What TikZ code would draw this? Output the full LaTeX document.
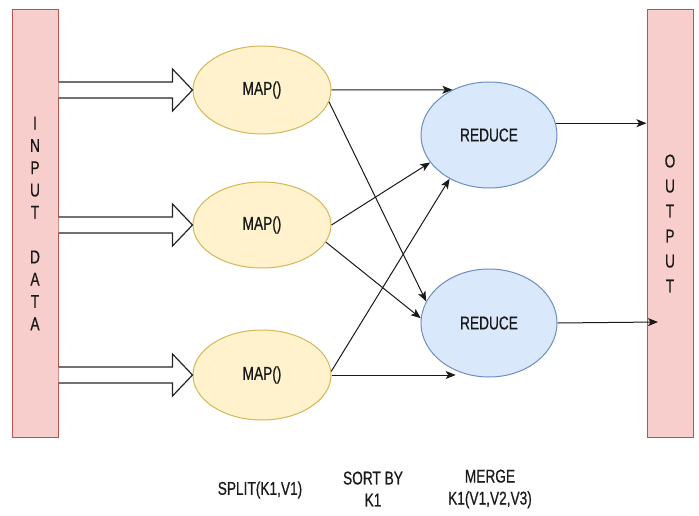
\documentclass[tikz,border=0pt]{standalone}
\usepackage{fontspec}
\setmainfont{Liberation Sans}[FakeStretch=0.74, FakeBold=0.6]
\usepackage{tikz}
\usetikzlibrary{arrows.meta,calc,shapes.geometric}

\definecolor{mapfill}{HTML}{FFF2CC}
\definecolor{mapline}{HTML}{D6B656}
\definecolor{redfill}{HTML}{DAE8FC}
\definecolor{redline}{HTML}{6C8EBF}
\definecolor{iofill}{HTML}{F8CECC}
\definecolor{ioline}{HTML}{B85450}
\definecolor{txt}{HTML}{1A1A1A}

% flecha de bloque: #1 inicio, #2 punta
\newcommand{\blockarrow}[2]{%
  \draw[blockline] ($(#1)+(0,-8)$) -- ($(#2)+(-20,-8)$) -- ($(#2)+(-20,-21)$)
    -- (#2) -- ($(#2)+(-20,21)$) -- ($(#2)+(-20,8)$) -- ($(#1)+(0,8)$);}

\begin{document}
\begin{tikzpicture}[x=1pt, y=-1pt, >={Stealth[length=10pt,width=8pt,inset=2.5pt]},
  font=\fontsize{18.5}{22.3}\selectfont, text=txt,
  mapnode/.style={ellipse, draw=mapline, fill=mapfill, line width=1pt, minimum width=138pt, minimum height=88pt, inner sep=0pt},
  rednode/.style={ellipse, draw=redline, fill=redfill, line width=1pt, minimum width=136pt, minimum height=106pt, inner sep=0pt},
  iobox/.style={rectangle, draw=ioline, fill=iofill, line width=1pt, minimum width=46pt, minimum height=427pt, inner sep=0pt, align=center},
  blockline/.style={draw=black!85, fill=white, line width=1.2pt, line join=miter},
  conn/.style={->, line width=1pt, black!90}]

\useasboundingbox (0,0) rectangle (699,516);

% Entrada y salida
\node[iobox] (in) at (35,223.5) {I\\N\\P\\U\\T\\[22.3pt]D\\A\\T\\A};
\node[iobox, font=\fontsize{18.5}{25}\selectfont] (out) at (670,223.5) {O\\U\\T\\P\\U\\T};

% Nodos MAP
\node[mapnode] (m1) at (262,90) {MAP()};
\node[mapnode, minimum height=86pt] (m2) at (262,225) {MAP()};
\node[mapnode, minimum height=90pt] (m3) at (262,375) {MAP()};

% Nodos REDUCE
\node[rednode] (r1) at (489,135) {REDUCE};
\node[rednode, minimum height=108pt] (r2) at (489,323) {REDUCE};

% Flechas de bloque desde la entrada
\blockarrow{in.east |- m1.west}{m1.west}
\blockarrow{in.east |- m2.west}{m2.west}
\blockarrow{in.east |- m3.west}{m3.west}

% Flechas de MAP a REDUCE
\draw[conn] (m1.east) -- (r1.129);
\draw[conn] (m1.-10) -- (r2.161);
\draw[conn] (m2.east) -- (r1.205);
\draw[conn] (m2.-15) -- (r2.176);
\draw[conn] (m3.3) -- (r1.228);
\draw[conn] (m3.east) -- (m3.east -| r2.235);

% Flechas hacia la salida
\coordinate (o2) at (658,322);
\draw[conn] (r1.10) -- (r1.10 -| out.west);
\draw[conn] (r2.east) -- (o2);

% Etiquetas inferiores
\node (split) at (260,490) {SPLIT(K1,V1)};
\node[align=center, font=\fontsize{18.5}{22}\selectfont] (sort) at (373,489) {SORT BY\\K1};
\node[align=center, font=\fontsize{18.5}{22}\selectfont] (merge) at (490,489) {MERGE\\K1(V1,V2,V3)};

\end{tikzpicture}
\end{document}
